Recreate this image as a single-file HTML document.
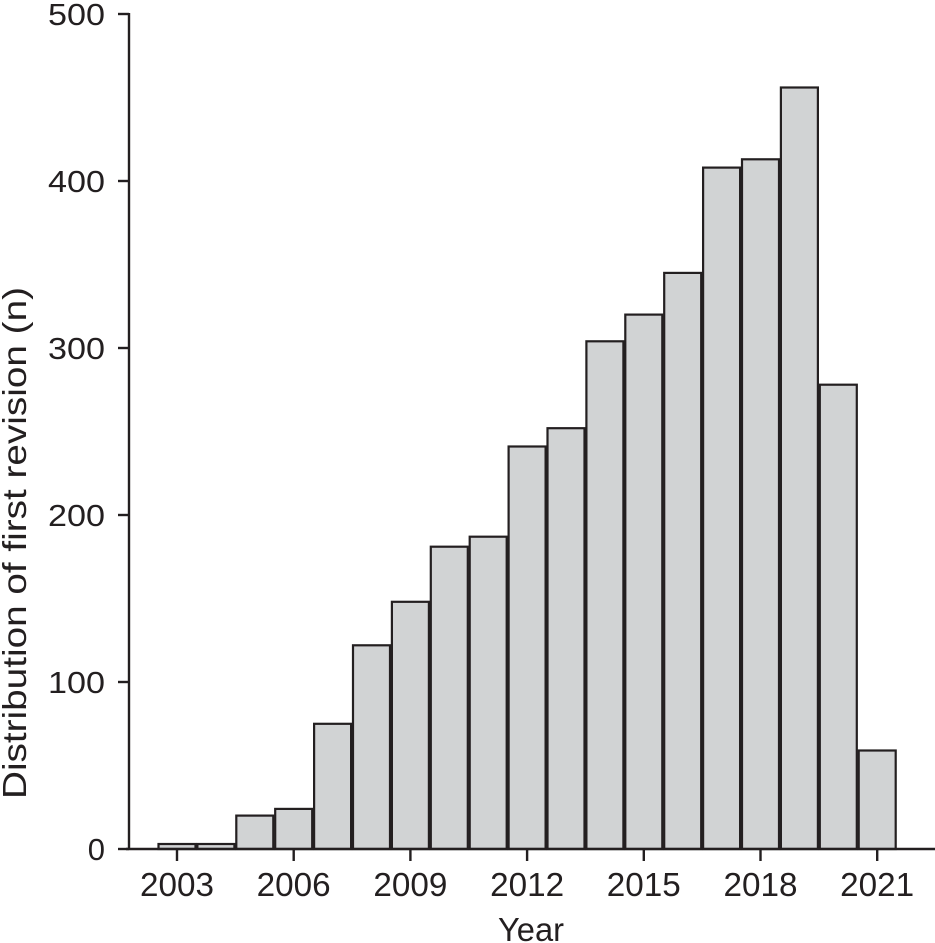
<!DOCTYPE html>
<html><head><meta charset="utf-8"><style>
html,body{margin:0;padding:0;background:#fff;}
svg{display:block;}
text{font-family:"Liberation Sans",sans-serif;fill:#231f20;}
</style></head><body>
<svg width="935" height="943" viewBox="0 0 935 943" xmlns="http://www.w3.org/2000/svg">
<g stroke="#231f20" stroke-width="2.2" fill="#d1d3d4">
<rect x="158.5" y="844" width="37" height="5"/>
<rect x="197.4" y="844" width="37" height="5"/>
<rect x="236.3" y="815.6" width="37" height="33.4"/>
<rect x="275.2" y="808.9" width="37" height="40.1"/>
<rect x="314.1" y="723.8" width="37" height="125.2"/>
<rect x="353" y="645.3" width="37" height="203.7"/>
<rect x="391.9" y="601.8" width="37" height="247.2"/>
<rect x="430.8" y="546.7" width="37" height="302.3"/>
<rect x="469.7" y="536.7" width="37" height="312.3"/>
<rect x="508.6" y="446.5" width="37" height="402.5"/>
<rect x="547.5" y="428.2" width="37" height="420.8"/>
<rect x="586.4" y="341.3" width="37" height="507.7"/>
<rect x="625.3" y="314.6" width="37" height="534.4"/>
<rect x="664.2" y="272.9" width="37" height="576.1"/>
<rect x="703.1" y="167.6" width="37" height="681.4"/>
<rect x="742" y="159.3" width="37" height="689.7"/>
<rect x="780.9" y="87.5" width="37" height="761.5"/>
<rect x="819.8" y="384.7" width="37" height="464.3"/>
<rect x="858.7" y="750.5" width="37" height="98.5"/>
</g>
<g stroke="#231f20" stroke-width="2.4" fill="none">
<line x1="129" y1="13" x2="129" y2="849"/>
<line x1="126" y1="849" x2="935" y2="849"/>
<line x1="118" y1="14" x2="129" y2="14"/>
<line x1="118" y1="181" x2="129" y2="181"/>
<line x1="118" y1="348" x2="129" y2="348"/>
<line x1="118" y1="515" x2="129" y2="515"/>
<line x1="118" y1="682" x2="129" y2="682"/>
<line x1="118" y1="849" x2="129" y2="849"/>
<line x1="177" y1="849" x2="177" y2="861"/>
<line x1="293.7" y1="849" x2="293.7" y2="861"/>
<line x1="410.4" y1="849" x2="410.4" y2="861"/>
<line x1="527.1" y1="849" x2="527.1" y2="861"/>
<line x1="643.8" y1="849" x2="643.8" y2="861"/>
<line x1="760.5" y1="849" x2="760.5" y2="861"/>
<line x1="877.2" y1="849" x2="877.2" y2="861"/>
</g>
<g font-size="31" text-anchor="end">
<text x="105" y="25" textLength="57" lengthAdjust="spacingAndGlyphs">500</text>
<text x="105" y="192" textLength="57" lengthAdjust="spacingAndGlyphs">400</text>
<text x="105" y="359" textLength="57" lengthAdjust="spacingAndGlyphs">300</text>
<text x="105" y="526" textLength="57" lengthAdjust="spacingAndGlyphs">200</text>
<text x="105" y="693" textLength="57" lengthAdjust="spacingAndGlyphs">100</text>
<text x="105" y="860">0</text>
</g>
<g font-size="33" text-anchor="middle">
<text x="177" y="896" textLength="74" lengthAdjust="spacingAndGlyphs">2003</text>
<text x="293.7" y="896" textLength="74" lengthAdjust="spacingAndGlyphs">2006</text>
<text x="410.4" y="896" textLength="74" lengthAdjust="spacingAndGlyphs">2009</text>
<text x="527.1" y="896" textLength="74" lengthAdjust="spacingAndGlyphs">2012</text>
<text x="643.8" y="896" textLength="74" lengthAdjust="spacingAndGlyphs">2015</text>
<text x="760.5" y="896" textLength="74" lengthAdjust="spacingAndGlyphs">2018</text>
<text x="877.2" y="896" textLength="74" lengthAdjust="spacingAndGlyphs">2021</text>
<text x="531" y="941" textLength="66" lengthAdjust="spacingAndGlyphs">Year</text>
<text transform="translate(26,543) rotate(-90)" font-size="33" textLength="512" lengthAdjust="spacingAndGlyphs">Distribution of first revision (n)</text>
</g>
</svg>
</body></html>
